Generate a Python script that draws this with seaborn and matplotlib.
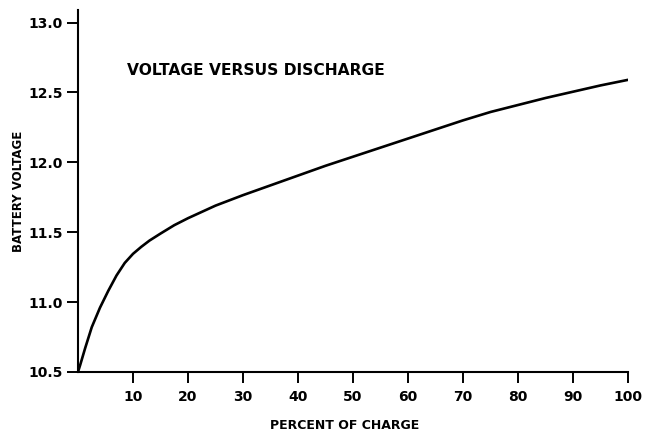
import pandas as pd
import matplotlib.pyplot as plt
import seaborn as sns

# values
percent_charge = [0, 0.4, 1.3, 2.5, 4, 5.5, 7, 8.5, 10, 11.5, 13, 15, 17.5, 20,
                  25, 30, 35, 40, 45, 50, 55, 60, 65, 70, 75, 80, 85, 90, 95, 100]
battery_voltage = [10.5, 10.55, 10.67, 10.82, 10.96, 11.08, 11.19, 11.28, 11.345,
                   11.395, 11.44, 11.49, 11.55, 11.60, 11.69, 11.765, 11.835,
                   11.905, 11.975, 12.04, 12.105, 12.17, 12.235, 12.30, 12.36,
                   12.41, 12.46, 12.505, 12.55, 12.59]
x_ticks = [10, 20, 30, 40, 50, 60, 70, 80, 90, 100]
y_ticks = [10.5, 11.0, 11.5, 12.0, 12.5, 13.0]
y_tick_labels = ["10.5", "11.0", "11.5", "12.0", "12.5", "13.0"]

sns.set_style("ticks")
plt.rcParams["font.family"] = ["DejaVu Sans"]
plt.rcParams["font.weight"] = "bold"
plt.rcParams["text.color"] = "black"
plt.rcParams["axes.labelcolor"] = "black"

df = pd.DataFrame({"pct": percent_charge, "volt": battery_voltage})

fig = plt.figure(figsize=(6.51, 4.32), dpi=100)
ax = fig.add_axes([0.1198, 0.139, 0.845, 0.838])
sns.lineplot(data=df, x="pct", y="volt", color="black", linewidth=1.9, ax=ax)

ax.set_xlim(0, 100)
ax.set_ylim(10.5, 13.09)
ax.set_xticks(x_ticks)
ax.set_xticklabels([str(t) for t in x_ticks])
ax.set_yticks(y_ticks)
ax.set_yticklabels(y_tick_labels)
ax.tick_params(axis="both", direction="out", length=8, width=1.4,
               colors="black", labelsize=10, pad=3)
ax.tick_params(axis="x", pad=5)

sns.despine(ax=ax)
for side in ["left", "bottom"]:
    ax.spines[side].set_linewidth(1.5)
    ax.spines[side].set_color("black")

ax.set_xlabel("PERCENT OF CHARGE", fontsize=9, fontweight="bold")
ax.xaxis.set_label_coords(0.485, -0.13)
ax.set_ylabel("BATTERY VOLTAGE", fontsize=8.5, fontweight="bold")
ax.yaxis.set_label_coords(-0.097, 0.5)

ax.text(8.9, 12.66, "VOLTAGE VERSUS DISCHARGE", fontsize=11.2, fontweight="bold",
        ha="left", va="center")

fig.savefig("out.png", dpi=100, facecolor="white")
